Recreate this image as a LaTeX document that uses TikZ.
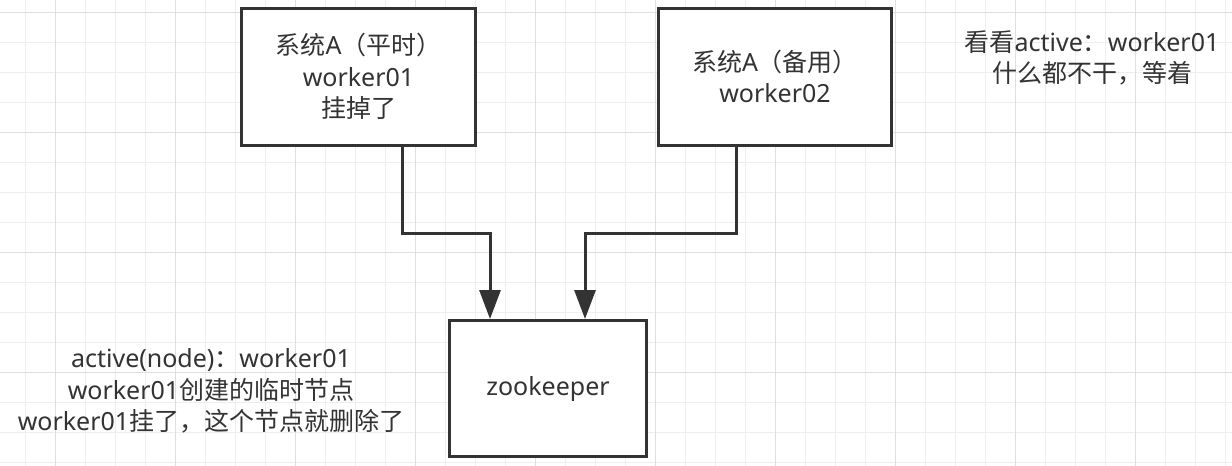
\documentclass[tikz,border=0pt]{standalone}
\usepackage{fontspec}
\setmainfont{Noto Sans}
\newfontfamily\cjk{Noto Sans CJK SC}
\newcommand\zh[1]{{\cjk #1}}
\usepackage{xcolor}
\usepackage{tikz}
\usetikzlibrary{arrows.meta}
\definecolor{ink}{HTML}{333333}
\definecolor{gridminor}{HTML}{EDEDF2}
\definecolor{gridmajor}{HTML}{DEDEE5}

\begin{document}
\begin{tikzpicture}[x=1pt,y=-1pt,
                >={Triangle[width=21pt,length=29pt]},
                line width=3pt,
                every node/.style={text=ink,align=center,font=\fontsize{25}{31.5}\selectfont},
                main/.style = {draw=ink, fill=white, inner sep=0pt},
                note/.style = {inner sep=0pt}]
            % Grid
            \useasboundingbox (0,0) rectangle (1232,466);
            \fill[white] (0,0) rectangle (1232,466);
            \foreach \x in {25,55,...,1225}
                \draw[gridminor,line width=1pt] (\x,0) -- (\x,466);
            \foreach \y in {12,42,...,462}
                \draw[gridminor,line width=1pt] (0,\y) -- (1232,\y);
            \foreach \x in {55,175,...,1135}
                \draw[gridmajor,line width=1pt] (\x,0) -- (\x,466);
            \foreach \y in {12,132,252,372}
                \draw[gridmajor,line width=1pt] (0,\y) -- (1232,\y);

            % Nodes
            \node[main,minimum width=234pt,minimum height=137pt] (sysA) at (358.5,76.5)
                {\zh{系统}A\zh{（平时）}\\worker01\\\zh{挂掉了}};
            \node[main,minimum width=233pt,minimum height=137pt] (sysB) at (775,76.5)
                {\zh{系统}A\zh{（备用）}\\worker02};
            \node[main,minimum width=197pt,minimum height=136pt] (zk) at (548,388.5) {zookeeper};
            \node[note] (noteL) at (211,391)
                {active(node)\zh{：}worker01\\worker01\zh{创建的临时节点}\\worker01\zh{挂了，这个节点就删除了}};
            \node[note] (noteR) at (1092,58)
                {\zh{看看}active\zh{：}worker01\\\zh{什么都不干，等着}};

            %Edges
            \draw[->,ink] ([xshift=43.5pt]sysA.south) -- ++(0,87) -| ([xshift=-58pt]zk.north);
            \draw[->,ink] ([xshift=-39pt]sysB.south) -- ++(0,87) -| ([xshift=37pt]zk.north);
        \end{tikzpicture}
\end{document}
